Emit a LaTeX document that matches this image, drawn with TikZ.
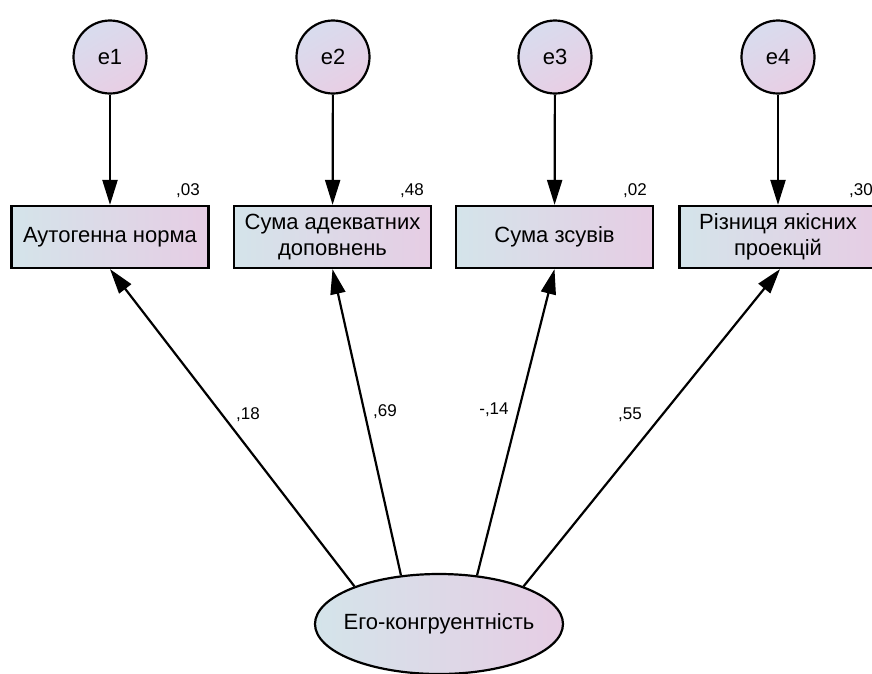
\documentclass[tikz,border=0pt]{standalone}
\usepackage{fontspec}
\setmainfont{Liberation Sans}
\usetikzlibrary{shapes.geometric,arrows.meta}
\definecolor{cL}{RGB}{212,228,234}
\definecolor{cR}{RGB}{230,205,228}
\definecolor{cC1}{RGB}{216,220,238}
\definecolor{cC2}{RGB}{232,206,228}
\begin{document}
\begin{tikzpicture}[x=1pt,y=-1pt,
  obs/.style={draw=black,line width=2.2pt,left color=cL,right color=cR,minimum width=197pt,minimum height=62pt,inner sep=2pt,align=center,font=\fontsize{22}{26}\selectfont},
  err/.style={circle,draw=black,line width=2.2pt,shading=axis,top color=cC1,bottom color=cC2,shading angle=30,minimum size=73pt,inner sep=0pt,font=\fontsize{22}{26}\selectfont},
  lat/.style={ellipse,draw=black,line width=2.2pt,left color=cL,right color=cR,minimum width=248pt,minimum height=100pt,inner xsep=-12pt,inner ysep=0pt,font=\fontsize{22}{26}\selectfont},
  arr/.style={line width=2.2pt,-{Triangle[length=25pt,width=15pt]}},
  val/.style={font=\fontsize{17}{19}\selectfont,inner sep=0pt}]
\useasboundingbox (0,0) rectangle (872,673);
\node[err] (e1) at (110,57) {e1};
\node[err] (e2) at (333,57) {e2};
\node[err] (e3) at (555,57) {e3};
\node[err] (e4) at (778,57) {e4};
\node[obs] (b1) at (110,237) {Аутогенна норма};
\node[obs] (b2) at (332.5,237) {Сума адекватних\\доповнень};
\node[obs] (b3) at (554.5,237) {Сума зсувів};
\node[obs] (b4) at (778,237) {Різниця якісних\\проекцій};
\node[lat] (ego) at (439,624) {Его-конгруентність};
\draw[arr] (e1) -- (b1);
\draw[arr] (e2) -- (b2);
\draw[arr] (e3) -- (b3);
\draw[arr] (e4) -- (b4);
\draw[arr] (ego.156) -- (b1.south);
\draw[arr] (ego.128) -- (b2.south);
\draw[arr] (ego.52) -- (b3.south);
\draw[arr] (ego.24) -- ([xshift=2pt]b4.south);
\node[val] (r1) at (188,191) {,03};
\node[val] (r2) at (412,191) {,48};
\node[val] (r3) at (635,191) {,02};
\node[val] (r4) at (861,191) {,30};
\node[val] (w1) at (248,415) {,18};
\node[val] (w2) at (385,412) {,69};
\node[val] (w3) at (494,410) {-,14};
\node[val] (w4) at (630,415) {,55};
\end{tikzpicture}
\end{document}
